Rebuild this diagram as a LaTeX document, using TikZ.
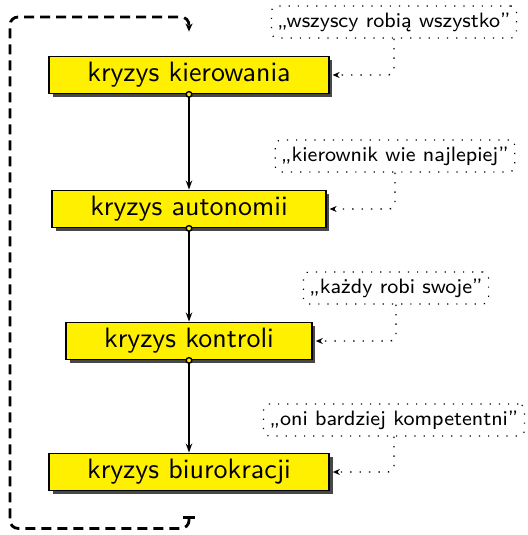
\documentclass[tikz,border=0pt]{standalone}
\usetikzlibrary{arrows.meta,shadows}
\definecolor{boxyellow}{RGB}{255,240,0}
% labels set in a smaller optical size and enlarged, for a wider, airier look
\newcommand{\crisislabel}[1]{\scalebox{1.4}{\fontsize{10}{12}\selectfont #1}}
\newcommand{\quotelabel}[1]{\scalebox{1.3}{\fontsize{8}{10}\selectfont #1}}
\begin{document}
\begin{tikzpicture}[x=0.5pt,y=-0.5pt,
  crisis/.style={draw=black, line width=0.9pt, fill=boxyellow,
    font=\sffamily, inner xsep=19pt, inner ysep=0pt,
    minimum height=18.5pt,
    drop shadow={shadow xshift=1.8pt, shadow yshift=-1.8pt, fill=black!72, opacity=1}},
  quote/.style={draw, loosely dotted, line width=0.6pt, rounded corners=3pt,
    font=\sffamily, minimum height=16pt, inner xsep=3pt},
  flow/.style={line width=0.7pt, shorten <=-1.75pt,
    {Circle[fill=boxyellow,length=3.5pt]}-{Stealth[length=4.5pt,width=3.2pt]}},
  note/.style={loosely dotted, line width=0.7pt, rounded corners=3pt, shorten >=1.5pt,
    -{Stealth[length=3.5pt,width=3pt]}},
  loop/.style={line width=1.4pt, dash pattern=on 5pt off 3pt, rounded corners=4pt,
    {Bar[width=6pt]}-{Stealth[length=4pt,width=3.5pt]}}]
\path[use as bounding box] (0,0) rectangle (528,535);

% the four crises, top to bottom
\node[crisis] (k1) at (189,75)  {\crisislabel{kryzys kierowania}};
\node[crisis] (k2) at (189,209) {\crisislabel{kryzys autonomii}};
\node[crisis] (k3) at (189,341) {\crisislabel{kryzys kontroli}};
\node[crisis] (k4) at (189,472) {\crisislabel{kryzys biurokracji}};

% slogans beside each crisis
\node[quote] (q1) at (394,22)  {\quotelabel{„wszyscy robią wszystko”}};
\node[quote] (q2) at (395,156) {\quotelabel{„kierownik wie najlepiej”}};
\node[quote] (q3) at (396,288) {\quotelabel{„każdy robi swoje”}};
\node[quote] (q4) at (394,420) {\quotelabel{„oni bardziej kompetentni”}};

% main sequence
\draw[flow] (k1.south) -- (k2.north);
\draw[flow] (k2.south) -- (k3.north);
\draw[flow] (k3.south) -- (k4.north);

% slogan pointers
\draw[note] (q1.south) |- (k1.east);
\draw[note] (q2.south) |- (k2.east);
\draw[note] (q3.south) |- (k3.east);
\draw[note] (q4.south) |- (k4.east);

% feedback loop back to the start
\coordinate (ls) at ([yshift=-12.5pt]k4.south);
\coordinate (le) at ([yshift=12pt]k1.north);
\draw[loop] (ls) -- ++(0,12) -| (10,17) -| (le);
\end{tikzpicture}
\end{document}
